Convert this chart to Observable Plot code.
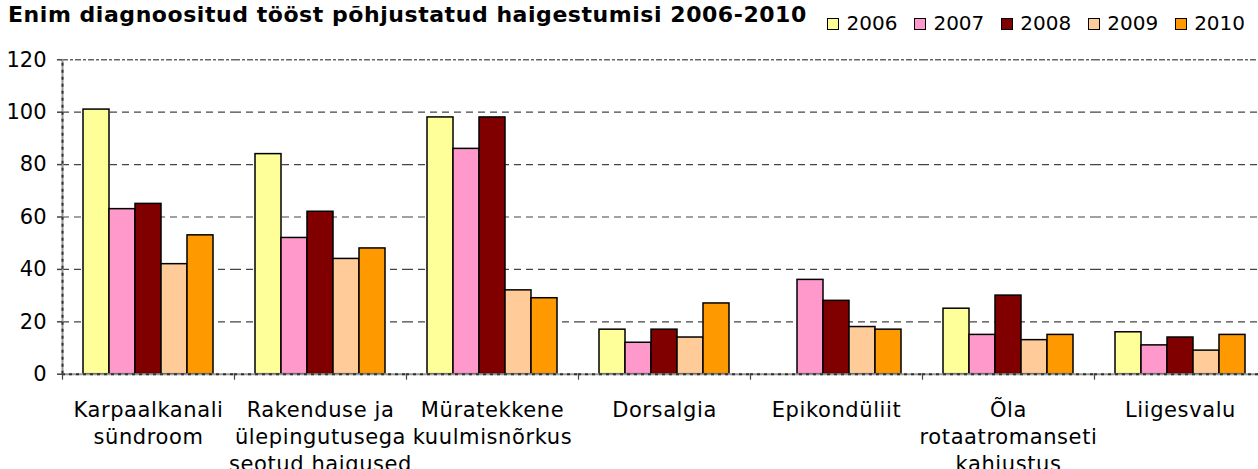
<!DOCTYPE html>
<html>
<head>
<meta charset="utf-8">
<script src="https://cdn.jsdelivr.net/npm/d3@7"></script>
<script src="https://cdn.jsdelivr.net/npm/@observablehq/plot@0.6"></script>
<style>
  html, body { margin: 0; padding: 0; background: #fff; overflow: hidden; width: 1258px; height: 469px; }
  #header { position: relative; width: 1258px; height: 40px; font-family: "DejaVu Sans", Verdana, sans-serif; }
  #title { position: absolute; left: 8px; top: 4px; font-size: 22px; line-height: 22px; letter-spacing: 0.55px; font-weight: bold; color: #000; white-space: nowrap; }
  #legend { position: absolute; left: 827px; top: 13px; display: flex; font-size: 20px; line-height: 20px; white-space: nowrap; color: #000; }
  .item { display: flex; align-items: center; margin-right: 16.5px; }
  .sw { width: 10px; height: 10px; border: 1px solid #000; margin-right: 7.5px; margin-top: 1.5px; }
  #chart svg { display: block; overflow: hidden; max-width: none; }
  #chart g[aria-label="fx-axis tick label"] text { letter-spacing: 0.6px; }
</style>
</head>
<body>
<div id="header">
  <div id="title"></div>
  <div id="legend"></div>
</div>
<div id="chart"></div>
<script>
const titleText = "Enim diagnoositud tööst põhjustatud haigestumisi 2006-2010";
const categories = ["Karpaalkanali sündroom", "Rakenduse ja ülepingutusega seotud haigused", "Müratekkene kuulmisnõrkus", "Dorsalgia", "Epikondüliit", "Õla rotaatromanseti kahjustus", "Liigesvalu"];
const categoryLabels = ["Karpaalkanali\nsündroom", "Rakenduse ja\nülepingutusega\nseotud haigused", "Müratekkene\nkuulmisnõrkus", "Dorsalgia", "Epikondüliit", "Õla\nrotaatromanseti\nkahjustus", "Liigesvalu"];
const years = ["2006", "2007", "2008", "2009", "2010"];
const colors = ["#FFFF99", "#FF99CC", "#800000", "#FFCC99", "#FF9900"];
const v2006 = [101, 84, 98, 17, null, 25, 16];
const v2007 = [63, 52, 86, 12, 36, 15, 11];
const v2008 = [65, 62, 98, 17, 28, 30, 14];
const v2009 = [42, 44, 32, 14, 18, 13, 9];
const v2010 = [53, 48, 29, 27, 17, 15, 15];
const yTicks = [0, 20, 40, 60, 80, 100, 120];

const series = [v2006, v2007, v2008, v2009, v2010];
const data = [];
categories.forEach((c, i) => {
  years.forEach((y, j) => {
    const v = series[j][i];
    if (v != null) data.push({category: c, year: y, value: v});
  });
});

document.getElementById("title").textContent = titleText;
const legend = document.getElementById("legend");
years.forEach((y, j) => {
  const it = document.createElement("div");
  it.className = "item";
  const sw = document.createElement("div");
  sw.className = "sw";
  sw.style.background = colors[j];
  const t = document.createElement("span");
  t.textContent = y;
  it.appendChild(sw);
  it.appendChild(t);
  legend.appendChild(it);
});

const W = 1266;
const marginLeft = 62;
const halfBand = (W - marginLeft) / categories.length / 2;

const chart = Plot.plot({
  width: W,
  height: 429,
  marginLeft: marginLeft,
  marginRight: 0,
  marginTop: 19.3,
  marginBottom: 95.3,
  style: {fontFamily: "DejaVu Sans, Verdana, sans-serif", fontSize: "20px", color: "#000", background: "#fff", maxWidth: "none"},
  fx: {domain: categories, padding: 0},
  x: {domain: years, paddingInner: 0, paddingOuter: 0.758, axis: null},
  y: {domain: [0, 120]},
  color: {domain: years, range: colors},
  marks: [
    Plot.gridY({ticks: [20, 40, 60, 80, 100], stroke: "#444", strokeOpacity: 1, strokeWidth: 1.2, strokeDasharray: "7,5"}),
    Plot.gridY({ticks: [120], stroke: "#666", strokeOpacity: 1, strokeWidth: 1.5, strokeDasharray: "6,2,3,2"}),
    Plot.barY(data, {fx: "category", x: "year", y: "value", fill: "year", stroke: "#000", strokeWidth: 1.5}),
    Plot.ruleY([0], {stroke: "#999", strokeWidth: 2}),
    Plot.ruleY([0], {stroke: "#333", strokeWidth: 2, strokeDasharray: "3,4"}),
    Plot.ruleX([categories[0]], {fx: d => d, x: null, dx: -halfBand, y1: 0, y2: 120, stroke: "#999", strokeWidth: 2}),
    Plot.ruleX([categories[0]], {fx: d => d, x: null, dx: -halfBand, y1: 0, y2: 120, stroke: "#333", strokeWidth: 2, strokeDasharray: "3,4"}),
    Plot.axisY({ticks: yTicks, tickSize: 5, tickPadding: 11, stroke: "#444", strokeWidth: 1.5, fontSize: 21, fill: "#000", label: null}),
    Plot.axisFx({anchor: "bottom", tickSize: 6, dx: -halfBand, tickFormat: () => "", stroke: "#444", strokeWidth: 1.2, label: null}),
    Plot.axisFx({anchor: "bottom", tickSize: 0, tickPadding: 23.5, fontSize: 21, lineHeight: 1.295, fill: "#000", label: null,
      tickFormat: d => categoryLabels[categories.indexOf(d)]})
  ]
});
document.getElementById("chart").appendChild(chart);
</script>
</body>
</html>
